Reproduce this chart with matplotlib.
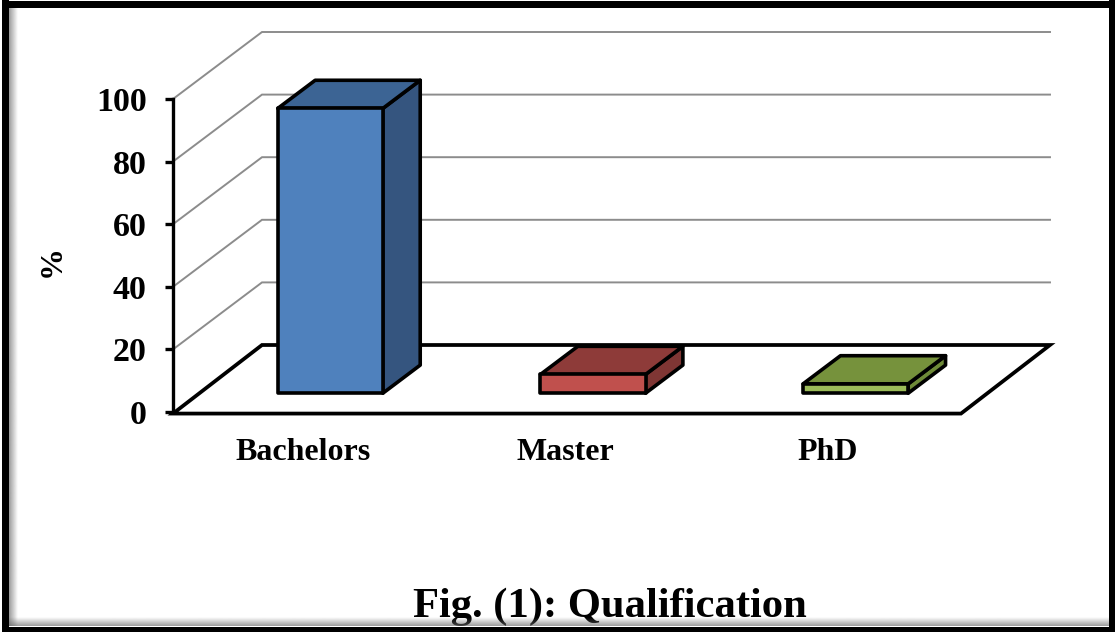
import numpy as np
import matplotlib
matplotlib.use("Agg")
import matplotlib.pyplot as plt
from matplotlib.patches import Polygon, Rectangle
from matplotlib.colors import LinearSegmentedColormap

categories = ["Bachelors", "Master", "PhD"]
values = [91, 6, 3]
y_ticks = [0, 20, 40, 60, 80, 100]
front_colors = ["#4F81BD", "#C0504D", "#9BBB59"]
top_colors = ["#3C6494", "#8E3B39", "#76923C"]
side_colors = ["#35557F", "#7F3634", "#6E8A38"]
title = "Fig. (1): Qualification"
y_label = "%"

W, H = 1115, 632
plt.rcParams["font.family"] = ["Liberation Serif", "DejaVu Serif"]
plt.rcParams["font.weight"] = "bold"
fig = plt.figure(figsize=(W / 100, H / 100), dpi=100, facecolor="white")

# front plane of the 3-D box, placed in pixels
L, R, T, B = 173, 961, 99, 412
ax = fig.add_axes([L / W, 1 - B / H, (R - L) / W, (B - T) / H])
ax.set_xlim(0, 3)
ax.set_ylim(0, 100)
ax.patch.set_alpha(0)
for s in ["top", "right", "bottom"]:
    ax.spines[s].set_visible(False)
ax.spines["left"].set_linewidth(2.4)
ax.spines["left"].set_zorder(6)
ax.set_yticks(y_ticks)
ax.tick_params(axis="y", length=6, width=2.4, pad=13, labelsize=24.5)
ax.set_xticks([i + 0.5 for i in range(len(categories))])
ax.set_xticklabels(categories, fontsize=23, fontweight="bold")
ax.tick_params(axis="x", length=0, pad=19)
# the original labels sit a little left of the slot centres
offset = matplotlib.transforms.ScaledTranslation(-1.1 / 72, 0, fig.dpi_scale_trans)
for lab in ax.get_xticklabels():
    lab.set_transform(lab.get_transform() + offset)

# oblique depth: one unit of depth moves this much in data units
DX = 89 / ((R - L) / 3)
DY = 67 / ((B - T) / 100)


def proj(x, v, d):
    return x + d * DX, v + d * DY


# walls and floor
for v in y_ticks[1:]:
    p0, p1 = proj(0, v, 0), proj(0, v, 1)
    p2 = proj(3, v, 1)
    ax.plot([p0[0], p1[0], p2[0]], [p0[1], p1[1], p2[1]], color="#8C8C8C",
            lw=1.4, clip_on=False, zorder=1, solid_joinstyle="miter")
front_drop = -0.5
floor = [proj(0, front_drop, 0), proj(3, front_drop, 0), proj(3, 0, 1), proj(0, 0, 1)]
ax.add_patch(Polygon(floor, closed=True, facecolor="white", edgecolor="black",
                     lw=2.7, clip_on=False, zorder=2, joinstyle="miter"))

# bars
BAR_W = 0.40
BAR_SHIFT = 0.504
D0, D1 = 0.28, 0.70
for i, v in enumerate(values):
    x0, x1 = i + BAR_SHIFT - BAR_W / 2, i + BAR_SHIFT + BAR_W / 2
    front = [proj(x0, 0, D0), proj(x1, 0, D0), proj(x1, v, D0), proj(x0, v, D0)]
    side = [proj(x1, 0, D0), proj(x1, 0, D1), proj(x1, v, D1), proj(x1, v, D0)]
    top = [proj(x0, v, D0), proj(x1, v, D0), proj(x1, v, D1), proj(x0, v, D1)]
    for poly, col in [(side, side_colors[i]), (top, top_colors[i]), (front, front_colors[i])]:
        ax.add_patch(Polygon(poly, closed=True, facecolor=col, edgecolor="black",
                             lw=2.6, clip_on=False, zorder=4, joinstyle="round"))

fig.text(52 / W, 1 - 261 / H, y_label, rotation=90, ha="center", va="center",
         fontsize=23, fontweight="bold")
fig.text(610 / W, 1 - 607 / H, title, ha="center", va="center",
         fontsize=30.7, fontweight="bold")

# outer frame with inner shadow
ov = fig.add_axes([0, 0, 1, 1], zorder=10)
ov.set_xlim(0, W)
ov.set_ylim(H, 0)
ov.axis("off")
shadow = LinearSegmentedColormap.from_list("s", [(0.4, 0.4, 0.4, 0.65), (0.4, 0.4, 0.4, 0)])
grad = np.linspace(0, 1, 32)
ov.imshow(grad[None, :], cmap=shadow, extent=(9, 18, 626, 8), aspect="auto", zorder=1)
ov.imshow(grad[::-1, None], cmap=shadow, extent=(9, 1109, 626, 617), aspect="auto", zorder=1)
ov.set_xlim(0, W)
ov.set_ylim(H, 0)
ov.add_patch(Rectangle((2, 0), 7, H, color="black", lw=0, zorder=2))
ov.add_patch(Rectangle((1109, 0), 6, H, color="black", lw=0, zorder=2))
ov.add_patch(Rectangle((2, 1), W, 7, color="black", lw=0, zorder=2))
ov.add_patch(Rectangle((2, 627), W, 5, color="black", lw=0, zorder=2))

fig.savefig("out.png", dpi=100)
